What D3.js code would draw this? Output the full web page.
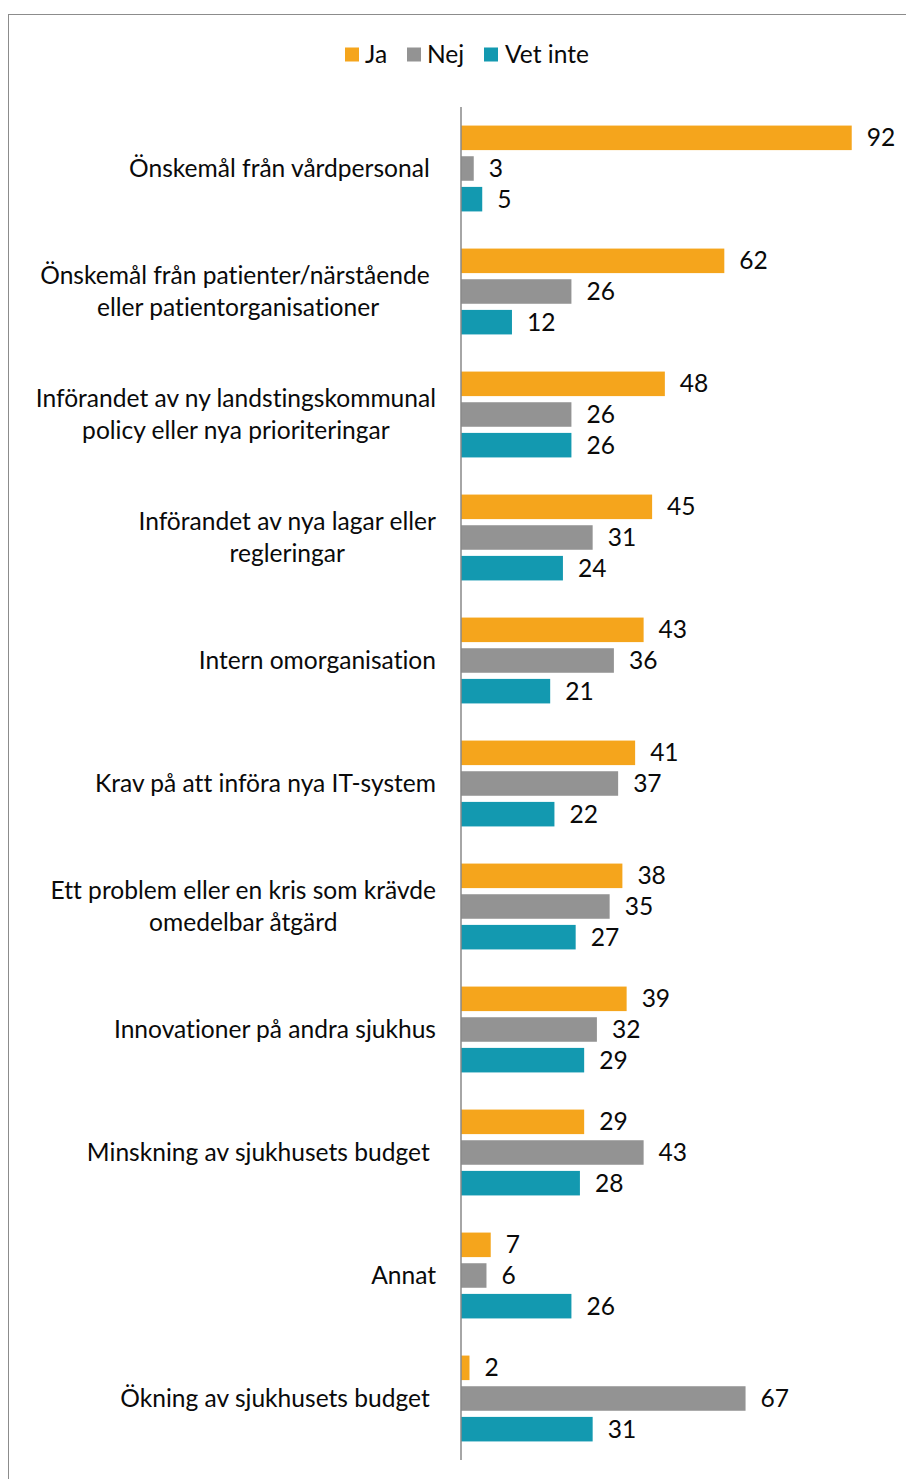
<!DOCTYPE html>
<html><head><meta charset="utf-8">
<script src="https://cdn.jsdelivr.net/npm/d3@7/dist/d3.min.js"></script>
<style>html,body{margin:0;padding:0;background:#fff;} svg{display:block;} text{font-variant-ligatures:none;font-feature-settings:"liga" 0;}</style>
</head><body>
<svg id="chart" width="906" height="1479"></svg>
<script>
const categories = [
  "Önskemål från vårdpersonal ",
  "Önskemål från patienter/närstående \neller patientorganisationer",
  "Införandet av ny landstingskommunal\npolicy eller nya prioriteringar",
  "Införandet av nya lagar eller\nregleringar",
  "Intern omorganisation",
  "Krav på att införa nya IT-system",
  "Ett problem eller en kris som krävde\nomedelbar åtgärd",
  "Innovationer på andra sjukhus",
  "Minskning av sjukhusets budget ",
  "Annat",
  "Ökning av sjukhusets budget "
];
const seriesNames = ["Ja", "Nej", "Vet inte"];
const ja     = [92, 62, 48, 45, 43, 41, 38, 39, 29, 7, 2];
const nej    = [3, 26, 26, 31, 36, 37, 35, 32, 43, 6, 67];
const vetInte= [5, 12, 26, 24, 21, 22, 27, 29, 28, 26, 31];
const seriesValues = [ja, nej, vetInte];
const colors = ["#F5A51C", "#939393", "#1399B0"];

const FONT = "Lato, 'Open Sans', sans-serif";
const svg = d3.select("#chart");

// fit font size so that the text width matches the reference rendering
const probe = svg.append("text").attr("font-family", FONT).attr("font-size", 100)
  .text("Minskning av sjukhusets budget");
const fs = 100 * 343 / probe.node().getComputedTextLength();
probe.remove();

// outer border
svg.append("rect").attr("x", 8.5).attr("y", 14.5).attr("width", 920).attr("height", 1500)
  .attr("fill", "none").attr("stroke", "#8c8c8c").attr("stroke-width", 1);

const x0 = 461;
const x = d3.scaleLinear().domain([0, 100]).range([x0, x0 + 424.7]);
const y = d3.scaleBand().domain(d3.range(categories.length)).range([107, 1460]);
const ySub = d3.scaleBand().domain(d3.range(3)).range([15.5, y.bandwidth() - 15.5])
  .paddingInner(0.2).paddingOuter(0.1);

const groups = svg.append("g").selectAll("g").data(categories).join("g")
  .attr("transform", (d, i) => `translate(0,${y(i)})`);

groups.each(function(cat, i) {
  const g = d3.select(this);
  seriesValues.forEach((vals, s) => {
    g.append("rect")
      .attr("x", x(0)).attr("y", ySub(s))
      .attr("width", x(vals[i]) - x(0)).attr("height", ySub.bandwidth())
      .attr("fill", colors[s]);
    g.append("text")
      .attr("x", x(vals[i]) + 15).attr("y", ySub(s) + ySub.bandwidth() / 2)
      .attr("dy", "0.35em")
      .attr("font-family", FONT).attr("font-size", fs).attr("fill", "#0a0a0a")
      .text(vals[i]);
  });
  // category label
  const lines = cat.split("\n");
  const lh = 32.4;
  const t = g.append("text").attr("font-family", FONT).attr("font-size", fs)
    .attr("fill", "#0a0a0a").style("white-space", "pre");
  const spans = lines.map((ln, k) => t.append("tspan").text(ln)
    .attr("y", y.bandwidth() / 2 + (k - (lines.length - 1) / 2) * lh)
    .attr("dy", "0.35em"));
  const widths = spans.map(sp => sp.node().getComputedTextLength());
  const maxW = d3.max(widths);
  const right = 436;
  const cx = right - maxW / 2;
  spans.forEach((sp, k) => sp.attr("x", cx).attr("text-anchor", "middle"));
});

// axis line
svg.append("line").attr("x1", x0).attr("x2", x0).attr("y1", 107).attr("y2", 1460)
  .attr("stroke", "#898989").attr("stroke-width", 1.5);

// legend
const legendItems = [
  {name: seriesNames[0], sx: 345, tx: 365},
  {name: seriesNames[1], sx: 407, tx: 427},
  {name: seriesNames[2], sx: 484, tx: 505}
];
const lg = svg.append("g");
legendItems.forEach((it, s) => {
  lg.append("rect").attr("x", it.sx).attr("y", 47.5).attr("width", 14).attr("height", 14)
    .attr("fill", colors[s]);
  lg.append("text").attr("x", it.tx).attr("y", 54.5).attr("dy", "0.35em")
    .attr("font-family", FONT).attr("font-size", fs).attr("fill", "#0a0a0a").text(it.name);
});
</script>
</body></html>
